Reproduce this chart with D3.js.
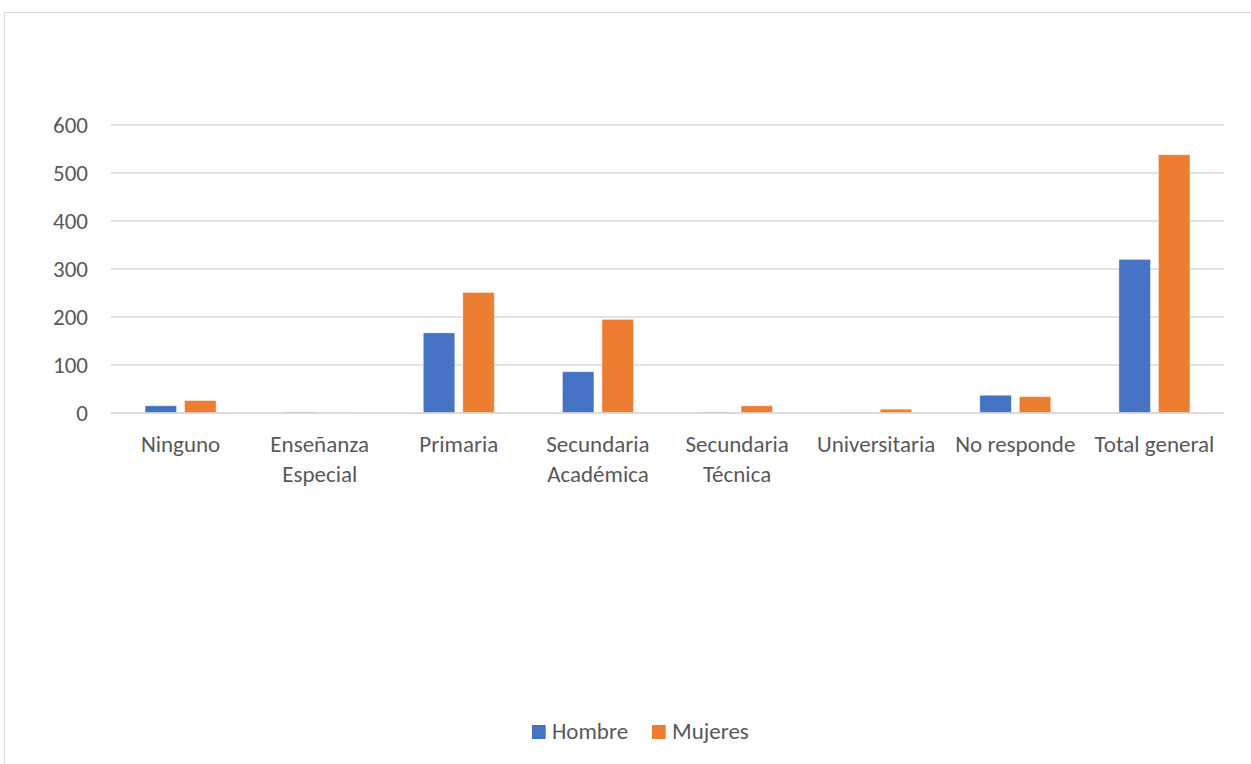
<!DOCTYPE html>
<html><head><meta charset="utf-8">
<script src="https://cdn.jsdelivr.net/npm/d3@7"></script>
<style>body{margin:0;background:#fff;}svg{display:block;}</style>
</head><body>
<svg id="c" width="1251" height="764"></svg>
<script>
const categories = ["Ninguno","Enseñanza Especial","Primaria","Secundaria Académica","Secundaria Técnica","Universitaria","No responde","Total general"];
const catLines = [["Ninguno"],["Enseñanza","Especial"],["Primaria"],["Secundaria","Académica"],["Secundaria","Técnica"],["Universitaria"],["No responde"],["Total general"]];
const seriesNames = ["Hombre","Mujeres"];
const hombre = [15,2,167,86,2,1,37,320];
const mujeres = [26,1,251,195,15,8,34,538];
const yTicks = [0,100,200,300,400,500,600];
const colors = ["#4472C4","#ED7D31"];

(function(){
const svg = d3.select("#c");
const font = "Carlito, Calibri, Lato, 'Open Sans', sans-serif";
const fs = 23;
svg.append("rect").attr("x",4.5).attr("y",12.5).attr("width",1260).attr("height",800)
  .attr("fill","#fff").attr("stroke","#d9d9d9");

const pl=111, pr=1224, pt=125, pb=413;
const x = d3.scaleBand().domain(categories).range([pl,pr]).paddingInner(0).paddingOuter(0);
const y = d3.scaleLinear().domain([0,600]).range([pb,pt]);

const g = svg.append("g");
g.selectAll("line.grid").data(yTicks).join("line")
  .attr("x1",pl).attr("x2",pr).attr("y1",d=>y(d)).attr("y2",d=>y(d))
  .attr("stroke","#d9d9d9").attr("stroke-width",1.3);

g.selectAll("text.yt").data(yTicks).join("text")
  .attr("x",88).attr("y",d=>y(d)).attr("dy","0.36em").attr("text-anchor","end")
  .attr("font-family",font).attr("font-size",fs).attr("fill","#595959").text(d=>d);

const bw = 31.5, gap = 8;
const data = [hombre, mujeres];
data.forEach((vals,si)=>{
  g.selectAll("rect.s"+si).data(vals).join("rect")
    .attr("x",(d,i)=>x(categories[i])+x.bandwidth()/2 - (bw+gap/2) + si*(bw+gap))
    .attr("width",bw)
    .attr("y",d=>y(d)).attr("height",d=>pb-y(d))
    .attr("fill",colors[si]).attr("stroke","#fff").attr("stroke-opacity",0.5).attr("stroke-width",0.8);
});
g.append("line").attr("x1",pl).attr("x2",pr).attr("y1",y(0)).attr("y2",y(0))
  .attr("stroke","#d9d9d9").attr("stroke-width",1.3);

catLines.forEach((lines,i)=>{
  const t = g.append("text").attr("text-anchor","middle")
    .attr("font-family",font).attr("font-size",fs).attr("fill","#595959");
  lines.forEach((ln,j)=>{
    t.append("tspan").attr("x",x(categories[i])+x.bandwidth()/2).attr("y",452+j*30).text(ln);
  });
});

const legX = [532, 652];
seriesNames.forEach((n,i)=>{
  svg.append("rect").attr("x",legX[i]).attr("y",725).attr("width",13.7).attr("height",14).attr("fill",colors[i]);
  svg.append("text").attr("x",legX[i]+20).attr("y",739).attr("font-family",font)
    .attr("font-size",fs).attr("fill","#595959").text(n);
});
})();
</script>
</body></html>
